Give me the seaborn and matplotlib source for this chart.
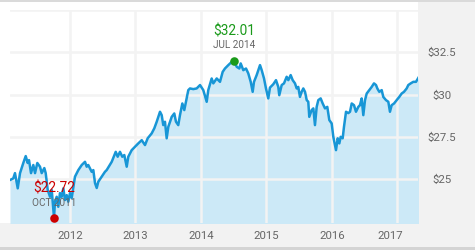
import matplotlib
matplotlib.use("Agg")
import matplotlib.pyplot as plt
import matplotlib.transforms as mtransforms
from matplotlib.patches import Rectangle
import seaborn as sns
import pandas as pd
import numpy as np

# ---- data (decimal years, price in $) ----
years = [
    2011.084, 2011.134, 2011.160, 2011.202, 2011.237, 2011.287, 2011.324, 2011.354, 2011.374, 2011.405,
    2011.440, 2011.466, 2011.501, 2011.542, 2011.568, 2011.608, 2011.629, 2011.660, 2011.695, 2011.721,
    2011.756, 2011.771, 2011.797, 2011.821, 2011.847, 2011.873, 2011.898, 2011.924, 2011.950, 2011.974,
    2012.000, 2012.026, 2012.050, 2012.076, 2012.127, 2012.179, 2012.229, 2012.255, 2012.279, 2012.331,
    2012.356, 2012.382, 2012.408, 2012.432, 2012.484, 2012.534, 2012.560, 2012.637, 2012.698, 2012.728,
    2012.763, 2012.798, 2012.829, 2012.866, 2012.890, 2012.942, 2012.992, 2013.043, 2013.095, 2013.145,
    2013.186, 2013.247, 2013.287, 2013.324, 2013.374, 2013.400, 2013.424, 2013.450, 2013.476, 2013.501,
    2013.527, 2013.553, 2013.592, 2013.618, 2013.653, 2013.679, 2013.715, 2013.745, 2013.782, 2013.806,
    2013.832, 2013.882, 2013.934, 2013.985, 2014.035, 2014.087, 2014.111, 2014.163, 2014.188, 2014.240,
    2014.290, 2014.331, 2014.366, 2014.417, 2014.469, 2014.504, 2014.545, 2014.585, 2014.606, 2014.646,
    2014.687, 2014.722, 2014.759, 2014.789, 2014.809, 2014.850, 2014.901, 2014.927, 2014.962, 2014.992,
    2015.027, 2015.053, 2015.104, 2015.145, 2015.180, 2015.195, 2015.232, 2015.267, 2015.308, 2015.333,
    2015.369, 2015.400, 2015.435, 2015.461, 2015.485, 2015.511, 2015.537, 2015.562, 2015.588, 2015.614,
    2015.638, 2015.653, 2015.690, 2015.715, 2015.740, 2015.766, 2015.791, 2015.827, 2015.858, 2015.893,
    2015.928, 2015.959, 2015.995, 2016.020, 2016.046, 2016.061, 2016.087, 2016.112, 2016.133, 2016.163,
    2016.183, 2016.214, 2016.249, 2016.275, 2016.301, 2016.336, 2016.366, 2016.402, 2016.427, 2016.453,
    2016.478, 2016.504, 2016.530, 2016.569, 2016.606, 2016.641, 2016.672, 2016.692, 2016.722, 2016.759,
    2016.783, 2016.824, 2016.860, 2016.885, 2016.911, 2016.947, 2016.988, 2017.027, 2017.064, 2017.099,
    2017.140, 2017.165, 2017.202, 2017.241, 2017.282, 2017.328,
]
prices = [
    24.94, 25.04, 25.35, 24.45, 25.35, 25.95, 26.36, 25.95, 26.12, 25.35,
    25.83, 25.35, 25.95, 25.73, 25.35, 25.65, 25.35, 24.35, 23.95, 24.35,
    22.72, 23.66, 23.95, 23.36, 24.17, 23.95, 24.45, 23.76, 24.05, 23.66,
    24.17, 23.88, 24.47, 25.14, 25.53, 25.83, 26.02, 25.73, 25.83, 25.43,
    25.53, 24.76, 24.47, 24.84, 25.14, 25.43, 25.53, 26.02, 26.61, 26.32,
    26.61, 26.32, 26.42, 25.73, 26.32, 26.71, 26.91, 27.11, 27.30, 27.01,
    27.41, 27.70, 28.00, 28.39, 28.98, 28.78, 28.19, 28.39, 27.41, 28.09,
    28.39, 28.68, 28.88, 28.39, 28.19, 28.78, 29.47, 29.08, 29.79, 30.26,
    30.36, 30.32, 30.36, 30.56, 30.26, 29.57, 30.26, 30.95, 30.66, 30.95,
    30.75, 31.34, 31.54, 31.74, 31.93, 32.01, 31.64, 31.54, 31.84, 31.44,
    31.54, 31.25, 30.75, 30.16, 30.75, 31.15, 31.74, 31.44, 30.95, 30.36,
    29.77, 30.41, 30.61, 30.85, 30.45, 29.96, 30.56, 30.66, 31.05, 30.85,
    31.15, 30.85, 30.66, 30.36, 30.45, 29.86, 30.16, 30.36, 30.16, 29.67,
    29.57, 28.68, 29.08, 29.18, 28.19, 29.27, 29.67, 29.77, 29.47, 29.18,
    29.27, 28.49, 28.29, 27.50, 27.01, 26.71, 27.41, 27.11, 27.50, 27.41,
    28.09, 28.98, 28.90, 28.98, 29.47, 29.37, 28.98, 29.27, 29.37, 29.77,
    28.78, 29.67, 30.06, 30.26, 30.45, 30.66, 30.56, 30.36, 30.16, 30.26,
    29.86, 29.67, 29.57, 28.98, 29.37, 29.47, 29.67, 29.86, 30.06, 30.16,
    30.36, 30.56, 30.66, 30.75, 30.75, 31.05,
]
year_ticks = [2012, 2013, 2014, 2015, 2016, 2017]
year_labels = ["2012", "2013", "2014", "2015", "2016", "2017"]
price_ticks = [25, 27.5, 30, 32.5, 35]
price_labels = ["$25", "$27.5", "$30", "$32.5", ""]
high_label, high_date = "$32.01", "JUL 2014"
low_label, low_date = "$22.72", "OCT 2011"

df = pd.DataFrame({"year": years, "price": prices})

sns.set_style("white")
plt.rcParams["font.family"] = ["Roboto", "DejaVu Sans"]

LINE = "#1896d6"
FILL = "#cce9f7"
GRID = "#f3f3f3"
PANEL = "#f2f2f2"
TXT = "#666666"

fig = plt.figure(figsize=(4.75, 2.5), dpi=100)
fig.patch.set_facecolor("white")
W, H = 475, 250
# background panels (figure coordinates)
for (x0, y0, w, h, c) in [
    (418 / W, 0, 1 - 418 / W, 1, PANEL),
    (0, 0, 1, 27 / H, PANEL),
    (0, 0, 1, 3 / H, "#d4d4d4"),
    (0, 1 - 2 / H, 1, 2 / H, "#dadada"),
]:
    fig.patches.append(Rectangle((x0, y0), w, h, transform=fig.transFigure,
                                 facecolor=c, edgecolor="none", zorder=-10))

ax = fig.add_axes([10 / W, 27 / H, 408 / W, 213 / H])
ax.set_zorder(1)
ax.set_facecolor("white")

ax.fill_between(df["year"], df["price"], 20, color=FILL, linewidth=0, zorder=1)
sns.lineplot(data=df, x="year", y="price", ax=ax, color=LINE, linewidth=1.8, zorder=3)

ax.set_xlim(2011.084, 2017.313)
ax.set_ylim(22.4, 35.0)
ax.set_xticks(year_ticks)
ax.set_xticklabels(year_labels)
ax.set_yticks(price_ticks)
ax.set_yticklabels(price_labels)
ax.yaxis.tick_right()
ax.grid(True, color=GRID, linewidth=1.8)
ax.set_axisbelow(False)
for ln in ax.get_xgridlines() + ax.get_ygridlines():
    ln.set_zorder(2)
ax.tick_params(axis="both", length=0, colors=TXT, labelsize=8.2)
ax.tick_params(axis="x", pad=6)
ax.tick_params(axis="y", pad=17)
for lab in ax.get_yticklabels():
    lab.set_horizontalalignment("center")
for s in ax.spines.values():
    s.set_visible(False)
ax.set_xlabel("")
ax.set_ylabel("")

# shift last x label left like the reference
last = ax.get_xticklabels()[-1]
last.set_transform(last.get_transform() + mtransforms.ScaledTranslation(-7 / 100, 0, fig.dpi_scale_trans))

# high/low markers
imax = int(np.argmax(prices))
imin = int(np.argmin(prices))
hx, hy = years[imax], prices[imax]
lx, ly = years[imin], prices[imin]
ax.scatter([hx], [hy], s=38, color="#1a9a1a", zorder=5, linewidths=0)
ax.scatter([lx], [ly], s=38, color="#cc0000", zorder=5, linewidths=0, clip_on=False)
ax.annotate(high_label, (hx, hy), xytext=(0, 29), textcoords="offset pixels",
            ha="center", va="center", color="#1a9a1a", fontsize=9.8, zorder=6)
ax.annotate(high_date, (hx, hy), xytext=(0, 16), textcoords="offset pixels",
            ha="center", va="center", color=TXT, fontsize=7.2, zorder=6)
ax.annotate(low_label, (lx, ly), xytext=(0, 29), textcoords="offset pixels",
            ha="center", va="center", color="#cc0000", fontsize=9.8, zorder=6)
ax.annotate(low_date, (lx, ly), xytext=(0, 15), textcoords="offset pixels",
            ha="center", va="center", color=TXT, fontsize=7.2, zorder=6)

fig.savefig("out.png", dpi=100)
